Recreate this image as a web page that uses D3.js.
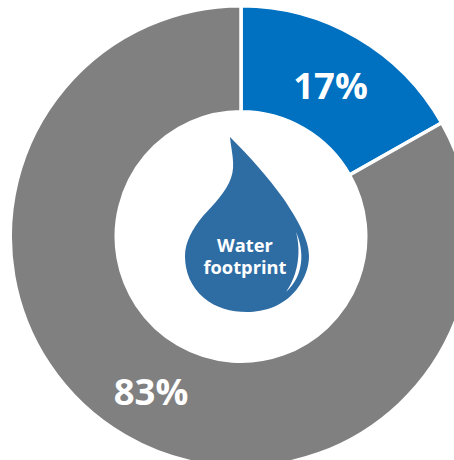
<!DOCTYPE html>
<html><head><meta charset="utf-8">
<script src="https://cdn.jsdelivr.net/npm/d3@7"></script>
<style>html,body{margin:0;padding:0;background:#fff;overflow:hidden}svg{display:block}text{font-family:"Open Sans",sans-serif;font-weight:700;fill:#fff}</style>
</head><body><script>
const categories = ["Water footprint", "Other"];
const values = [16.8, 83.2];
const labels = ["17%", "83%"];
const colors = ["#0070C0", "#808080"];
const centerLabel = ["Water", "footprint"];

const W = 454, H = 460, cx = 241, cy = 236.5, R = 230.75, r = 124.75;
const svg = d3.select("body").append("svg").attr("width", W).attr("height", H);
const g = svg.append("g").attr("transform", `translate(${cx},${cy})`);
const pie = d3.pie().sort(null)(values);
const arc = d3.arc().innerRadius(r).outerRadius(R);
g.selectAll("path.slice").data(pie).join("path").attr("class", "slice")
  .attr("d", arc).attr("fill", (d, i) => colors[i])
  .attr("stroke", "#fff").attr("stroke-width", 3.5).attr("stroke-linejoin", "miter");

// label offsets from the centre
const labelPos = [[89.5, -137.5], [-90, 168.5]];
g.selectAll("text.pct").data(labels).join("text").attr("class", "pct")
  .attr("x", (d, i) => labelPos[i][0]).attr("y", (d, i) => labelPos[i][1])
  .attr("text-anchor", "middle").attr("font-size", 36.5).text(d => d);

// water drop
svg.append("path").attr("fill", "#2E6CA4").attr("d",
  "M230,137 C231,150 236,165 231,178 C226,192 214,204 203,216 C192,229 185,243 185,256 " +
  "C185,272 191,287 204,298 C216,308 231,312 247,312 C264,312 284,306 297,289 C305,278 309,267 309,256 " +
  "C309,240 298,220 283,198 C268,177 249,156 230,137 Z");
svg.append("path").attr("fill", "#fff").attr("d",
  "M296,232 C304,250 305,275 286,292 C299,274 301,250 296,232 Z");
svg.selectAll("text.drop").data(centerLabel).join("text").attr("class", "drop")
  .attr("x", 245).attr("y", (d, i) => 252 + i * 21.5)
  .attr("text-anchor", "middle").attr("font-size", 18.3).text(d => d);
</script></body></html>
